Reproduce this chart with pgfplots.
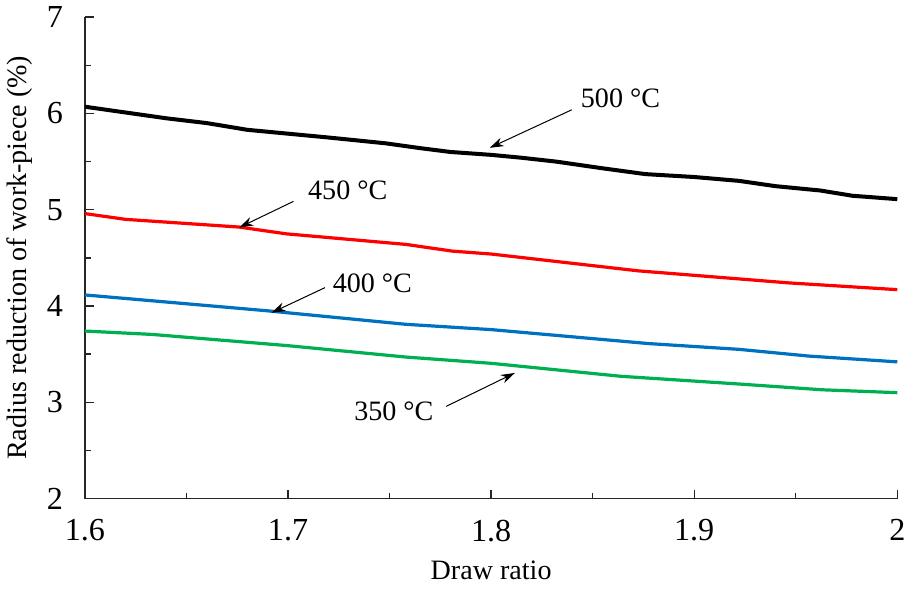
\documentclass[border=0pt]{standalone}
\usepackage{pgfplots}
\pgfplotsset{compat=1.18}
\usepackage{fontspec}
\setmainfont{Liberation Serif}
\usetikzlibrary{arrows.meta}
\definecolor{cblue}{RGB}{0,112,192}
\definecolor{cgreen}{RGB}{0,176,80}
\begin{document}
\begin{tikzpicture}
\begin{axis}[
  scale only axis,
  width=405pt, height=240pt,
  xmin=1.6, xmax=2, ymin=2, ymax=7,
  axis lines*=left,
  axis line style={black!85, line width=0.8pt, -},
  tick style={black!85, line width=0.7pt},
  tick align=inside,
  major tick length=4.5pt, minor tick length=3pt,
  xtick={1.6,1.7,1.8,1.9,2},
  xticklabels={1.6,1.7,1.8,1.9,2},
  ytick={2,3,4,5,6,7},
  minor x tick num=1, minor y tick num=1,
  /pgf/number format/assume math mode=true,
  ticklabel style={font=\fontsize{16}{18}\selectfont},
  xticklabel style={yshift=-7pt},
  yticklabel style={xshift=-7.5pt},
  xlabel={Draw ratio},
  ylabel={Radius reduction of work-piece (\%)},
  label style={font=\fontsize{14}{16}\selectfont},
  xlabel style={at={(axis description cs:0.5,0)}, anchor=base, yshift=-40.5pt},
  ylabel style={at={(axis description cs:-0.072,0.5)}, anchor=base},
]
\addplot[black, line width=2pt] coordinates {
(1.600,6.07) (1.620,6.01) (1.640,5.95) (1.660,5.90) (1.680,5.83) (1.700,5.79)
(1.720,5.75) (1.748,5.69) (1.765,5.64) (1.780,5.60) (1.800,5.57) (1.815,5.54)
(1.832,5.50) (1.855,5.43) (1.876,5.37) (1.900,5.34) (1.922,5.30) (1.940,5.245)
(1.962,5.20) (1.978,5.145) (2.000,5.11)};
\addplot[red, line width=1.6pt] coordinates {
(1.600,4.96) (1.620,4.90) (1.676,4.82) (1.699,4.75) (1.758,4.64) (1.781,4.57)
(1.800,4.54) (1.8726,4.365) (1.9467,4.24) (2.000,4.17)};
\addplot[cblue, line width=1.6pt] coordinates {
(1.600,4.115) (1.690,3.95) (1.758,3.81) (1.800,3.755) (1.8775,3.61) (1.922,3.55)
(1.9565,3.48) (2.000,3.42)};
\addplot[cgreen, line width=1.6pt] coordinates {
(1.600,3.74) (1.633,3.705) (1.699,3.59) (1.758,3.47) (1.800,3.405) (1.864,3.27)
(1.922,3.19) (1.963,3.13) (2.000,3.10)};
\draw[-{Stealth[length=7pt,width=4.5pt]}, line width=0.5pt] (axis cs:1.8397,6.038) -- (axis cs:1.7993,5.643);
\draw[-{Stealth[length=7pt,width=4.5pt]}, line width=0.5pt] (axis cs:1.7027,5.087) -- (axis cs:1.676,4.816);
\draw[-{Stealth[length=7pt,width=4.5pt]}, line width=0.5pt] (axis cs:1.7182,4.191) -- (axis cs:1.6919,3.93);
\draw[-{Stealth[length=7pt,width=4.5pt]}, line width=0.5pt] (axis cs:1.7779,2.958) -- (axis cs:1.8117,3.305);
\node[font=\fontsize{14}{16}\selectfont] at (axis cs:1.8637,6.156) {500 °C};
\node[font=\fontsize{14}{16}\selectfont] at (axis cs:1.7294,5.198) {450 °C};
\node[font=\fontsize{14}{16}\selectfont] at (axis cs:1.7415,4.234) {400 °C};
\node[font=\fontsize{14}{16}\selectfont] at (axis cs:1.7521,2.906) {350 °C};
\end{axis}
\path ([yshift=-48pt]current axis.south west);
\end{tikzpicture}
\end{document}
